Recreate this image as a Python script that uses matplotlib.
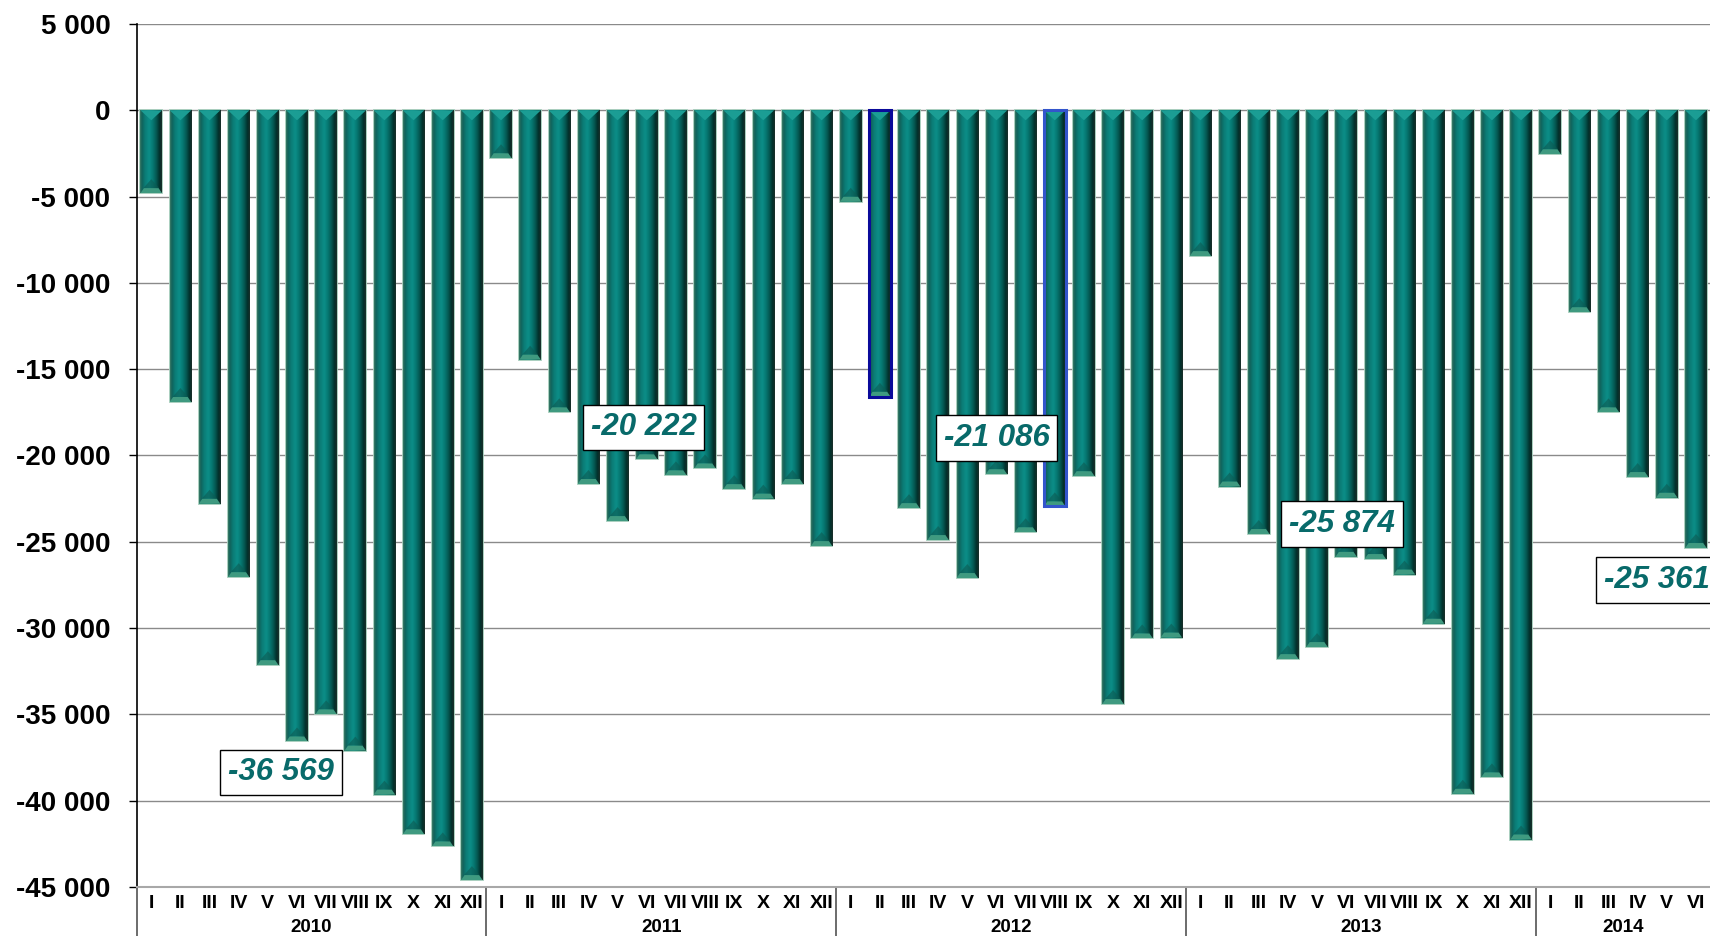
import numpy as np
import matplotlib
matplotlib.use("Agg")
import matplotlib.pyplot as plt
from matplotlib.colors import LinearSegmentedColormap
from matplotlib.patches import Polygon

plt.rcParams['font.family'] = ['Liberation Sans', 'DejaVu Sans']

# ---------------- data ----------------
years = ["2010", "2011", "2012", "2013", "2014"]
months_per_year = [12, 12, 12, 12, 6]
month_names = ["I", "II", "III", "IV", "V", "VI", "VII", "VIII", "IX", "X", "XI", "XII"]

v2010 = [-4800, -16900, -22800, -27050, -32150, -36569, -35000, -37100, -39650, -41950, -42650, -44600]
v2011 = [-2780, -14450, -17500, -21650, -23800, -20222, -21150, -20750, -21950, -22500, -21650, -25250]
v2012 = [-5300, -16600, -23050, -24900, -27100, -21086, -24450, -22950, -21200, -34400, -30600, -30550]
v2013 = [-8450, -21800, -24550, -31800, -31100, -25874, -26000, -26900, -29750, -39600, -38650, -42250]
v2014 = [-2550, -11700, -17500, -21250, -22450, -25361]

values = v2010 + v2011 + v2012 + v2013 + v2014
tick_labels = [month_names[m] for n in months_per_year for m in range(n)]

# labelled bars (index) and highlighted (blue outline) bars
label_idx = [5, 17, 29, 41, 53]
highlight_idx = [25, 31]
highlight_col = ["#0a0a9a", "#3355cc"]

# label offsets in pixels (style)
label_offsets = [(-16, -31), (-3, 32), (0, 36), (-4, 33), (-39, -32)]

# ---------------- figure ----------------
W, H = 1710, 936
fig = plt.figure(figsize=(W / 100, H / 100), dpi=100)
ax = fig.add_axes([136.7 / W, 49 / H, (1710.5 - 136.7) / W, (887 - 24) / H])

x = np.arange(len(values))
bw = 0.74
bars = ax.bar(x, values, width=bw, color="#0a7a74", edgecolor="#a3ccba",
              linewidth=1.3, zorder=2)

# 3D-like horizontal gradient for each bar
cmap = LinearSegmentedColormap.from_list("bev", [
    (0.00, "#3b7a66"), (0.08, "#11625a"), (0.22, "#0b7b75"),
    (0.42, "#0c8e88"), (0.58, "#067a74"), (0.76, "#045650"),
    (0.90, "#022f2b"), (1.00, "#1b2f29")])
grad = np.linspace(0, 1, 64).reshape(1, -1)
ppu = 863 / 50000.0  # pixels per data unit (vertical)
for i, (p, v) in enumerate(zip(bars.patches, values)):
    x0 = p.get_x()
    x1 = x0 + p.get_width()
    xc = x0 + p.get_width() / 2
    im = ax.imshow(grad, extent=[x0, x1, v, 0], aspect="auto", cmap=cmap,
                   interpolation="bilinear", zorder=3)
    im.set_clip_path(p)
    d = 10 / ppu
    tri = Polygon([(x0, 0), (x1, 0), (xc, -min(d, abs(v) / 2))],
                  closed=True, facecolor="#1b9d94", edgecolor="none", zorder=4)
    ax.add_patch(tri)
    tri.set_clip_path(p)
    bd = 5 / ppu
    up = Polygon([(x0 + 0.1, v + bd), (x1 - 0.1, v + bd), (xc, v + bd + 9 / ppu)],
                 closed=True, facecolor="#0d5b53", edgecolor="none", alpha=0.6,
                 zorder=4)
    ax.add_patch(up)
    up.set_clip_path(p)
    bot = Polygon([(x0, v), (x1, v), (x1 - 0.12, v + bd), (x0 + 0.12, v + bd)],
                  closed=True, facecolor="#3f9a80", edgecolor="none", zorder=4)
    ax.add_patch(bot)
    bot.set_clip_path(p)

for k, i in enumerate(highlight_idx):
    ax.bar(x[i], values[i], width=bw, fill=False, edgecolor=highlight_col[k],
           linewidth=2.2, zorder=5)

# ---------------- axes ----------------
ax.set_xlim(-0.5, len(values) - 0.5)
ax.set_ylim(-45000, 5000)
yt = np.arange(-45000, 5001, 5000)
ax.set_yticks(yt)
ax.set_yticklabels([f"{v:,}".replace(",", " ") for v in yt],
                   fontsize=20, fontweight="bold")
ax.tick_params(axis="y", length=6, width=1, pad=13, color="black")
ax.set_xticks(x)
ax.set_xticklabels(tick_labels, fontsize=14, fontweight="bold")
ax.tick_params(axis="x", length=0, pad=5.5)

ax.yaxis.grid(True, color="#8a8a8a", linewidth=1)
ax.set_axisbelow(True)
for s in ["top", "right"]:
    ax.spines[s].set_visible(False)
ax.spines["left"].set_color("black")
ax.spines["left"].set_linewidth(1.2)
ax.spines["bottom"].set_color("#a8a8a8")
ax.spines["bottom"].set_linewidth(1.5)

# year separators and labels
tr = ax.get_xaxis_transform()
bounds = np.concatenate([[0], np.cumsum(months_per_year)]) - 0.5
for b in bounds:
    ax.plot([b, b], [0, -0.065], transform=tr, clip_on=False,
            color="#606060", linewidth=1.3)
for k, yname in enumerate(years):
    c = (bounds[k] + bounds[k + 1]) / 2
    ax.text(c, -0.0475, yname, transform=tr, ha="center", va="center",
            fontsize=13.5, fontweight="bold")

# data labels
for k, i in enumerate(label_idx):
    txt = f"{values[i]:,}".replace(",", " ")
    ax.annotate(txt, xy=(x[i], values[i]), xytext=label_offsets[k],
                textcoords="offset pixels", ha="center", va="center",
                fontsize=22.5, fontweight="bold", fontstyle="italic",
                color="#086a6a", zorder=6, annotation_clip=False,
                bbox=dict(boxstyle="square,pad=0.25", facecolor="white",
                          edgecolor="black", linewidth=1))

fig.savefig("out.png", dpi=100)
